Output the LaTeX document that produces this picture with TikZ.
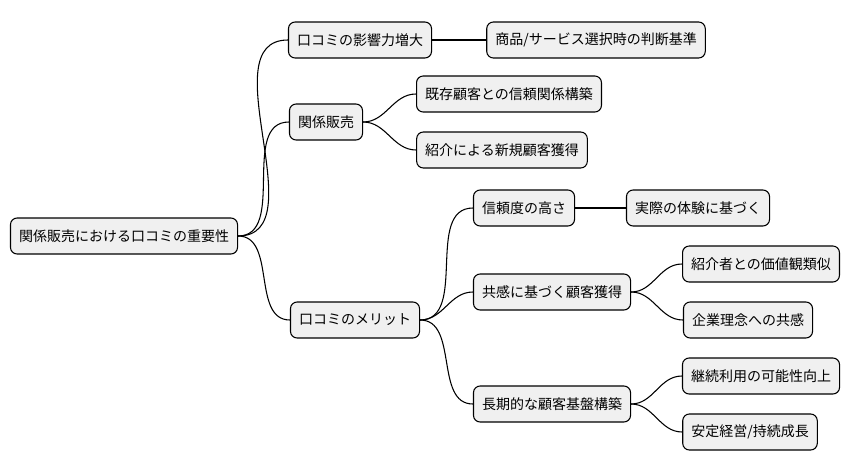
\documentclass[tikz,border=0pt]{standalone}
\usepackage{fontspec}
\setmainfont{Noto Sans CJK JP}
\begin{document}
\begin{tikzpicture}[x=0.75pt,y=-0.75pt,
  box/.style={draw=black,line width=0.8pt,fill=black!6,rounded corners=5pt,minimum height=27pt,inner xsep=6.4pt,font=\fontsize{10.5pt}{12pt}\selectfont},
  link/.style={draw=black,line width=0.8pt}]
\useasboundingbox (0,0) rectangle (852,471);
\node[box] (r) at (124,236) {関係販売における口コミの重要性};
\node[box] (a) at (360,40) {口コミの影響力増大};
\node[box] (a1) at (596,40) {商品/サービス選択時の判断基準};
\node[box] (b) at (326,122) {関係販売};
\node[box] (b1) at (509,94) {既存顧客との信頼関係構築};
\node[box] (b2) at (502,150) {紹介による新規顧客獲得};
\node[box] (c) at (355,320) {口コミのメリット};
\node[box] (c1) at (524,208) {信頼度の高さ};
\node[box] (c11) at (698,208) {実際の体験に基づく};
\node[box] (c2) at (552,292) {共感に基づく顧客獲得};
\node[box] (c21) at (761,264) {紹介者との価値観類似};
\node[box] (c22) at (748,320) {企業理念への共感};
\node[box] (c3) at (552,404) {長期的な顧客基盤構築};
\node[box] (c31) at (761,376) {継続利用の可能性向上};
\node[box] (c32) at (750,432) {安定経営/持続成長};
\foreach \p/\c in {r/a,r/b,r/c,a/a1,b/b1,b/b2,c/c1,c/c2,c/c3,c1/c11,c2/c21,c2/c22,c3/c31,c3/c32}
  \draw[link] (\p.east) to[out=0,in=180] (\c.west);
\end{tikzpicture}
\end{document}
